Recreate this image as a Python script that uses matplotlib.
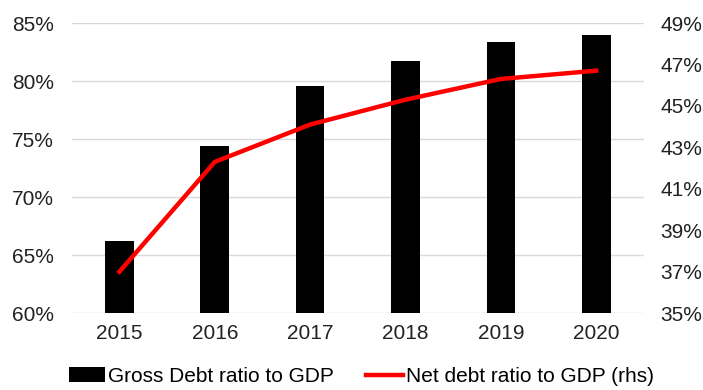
import matplotlib
matplotlib.use('Agg')
import matplotlib.pyplot as plt
from matplotlib.ticker import FuncFormatter

years = ['2015', '2016', '2017', '2018', '2019', '2020']
gross_debt = [66.2, 74.4, 79.6, 81.7, 83.4, 84.0]
net_debt = [37.0, 42.3, 44.1, 45.3, 46.3, 46.7]

plt.rcParams['font.family'] = ['Liberation Sans', 'DejaVu Sans']

fig = plt.figure(figsize=(7.03, 3.90), dpi=100)
ax = fig.add_axes([0.102, 0.197, 0.814, 0.744])
ax2 = ax.twinx()

x = range(len(years))
ax.bar(x, gross_debt, width=0.3, color='black', label='Gross Debt ratio to GDP', zorder=2)
ax2.plot(x, net_debt, color='#ff0000', lw=3.2, label='Net debt ratio to GDP (rhs)', zorder=3)

ax.set_xlim(-0.5, 5.5)
ax.set_ylim(60, 85)
ax.set_yticks(range(60, 86, 5))
ax2.set_ylim(35, 49)
ax2.set_yticks(range(35, 50, 2))

pct = FuncFormatter(lambda v, p: f"{v:.0f}%")
ax.yaxis.set_major_formatter(pct)
ax2.yaxis.set_major_formatter(pct)
ax.set_xticks(list(x))
ax.set_xticklabels(years)

ax.grid(axis='y', color='#d9d9d9', lw=1, zorder=0)
ax.set_axisbelow(True)
for a in (ax, ax2):
    for s in a.spines.values():
        s.set_visible(False)
    a.tick_params(length=0, labelsize=15, colors='#222222')
ax.tick_params(axis='y', pad=13)
ax2.tick_params(axis='y', pad=12)
ax.tick_params(axis='x', pad=8)

h1, l1 = ax.get_legend_handles_labels()
h2, l2 = ax2.get_legend_handles_labels()
fig.legend(h1 + h2, l1 + l2, loc='center', bbox_to_anchor=(0.514, 0.035), ncol=2,
           frameon=False, fontsize=15, handlelength=1.75, handletextpad=0.15,
           columnspacing=1.55)

fig.savefig('out.png', dpi=100)
